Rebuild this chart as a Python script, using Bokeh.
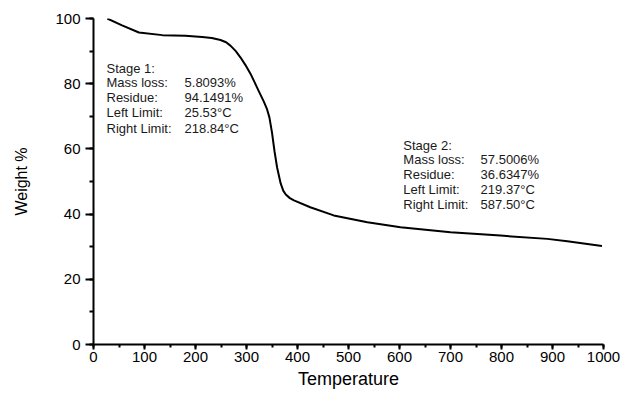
from bokeh.plotting import figure
from bokeh.models import SingleIntervalTicker, ColumnDataSource
from bokeh.core.properties import value
from bokeh.embed import file_html
from bokeh.resources import INLINE

temperature = [27, 56, 89, 135, 180, 213, 232, 249, 260, 269, 279, 288, 298, 308, 316, 324, 334,
               340, 345, 350, 355, 360, 367, 372, 377, 385, 393, 425, 471, 537, 602, 700, 798,
               890, 929, 997]
weight = [100.0, 97.9, 95.7, 94.9, 94.7, 94.3, 94.0, 93.4, 92.7, 91.6, 90.0, 88.1, 85.7, 83.0,
          80.4, 77.7, 74.5, 72.3, 69.6, 65.0, 59.2, 54.3, 49.4, 47.2, 46.0, 44.9, 44.2, 42.1,
          39.6, 37.5, 36.0, 34.4, 33.4, 32.4, 31.7, 30.2]

stage1_labels = ["Stage 1:", "Mass loss:", "Residue:", "Left Limit:", "Right Limit:"]
stage1_values = ["", "5.8093%", "94.1491%", "25.53°C", "218.84°C"]
stage1_y = [84.8, 80.5, 75.9, 71.3, 66.4]
stage2_labels = ["Stage 2:", "Mass loss:", "Residue:", "Left Limit:", "Right Limit:"]
stage2_values = ["", "57.5006%", "36.6347%", "219.37°C", "587.50°C"]
stage2_y = [61.0, 56.6, 52.3, 47.6, 42.9]

FONT = "Liberation Sans"

p = figure(width=624, height=394, x_range=(0, 1000), y_range=(0, 100),
           output_backend="svg", toolbar_location=None,
           min_border_left=93, min_border_right=21, min_border_top=18, min_border_bottom=50)
p.outline_line_color = None
p.xgrid.visible = False
p.ygrid.visible = False
p.background_fill_color = "white"
p.border_fill_color = "white"

p.line(temperature, weight, line_color="black", line_width=2, line_join="round")

src1 = ColumnDataSource(dict(x=[25.5] * 5, y=stage1_y, t=stage1_labels))
src1v = ColumnDataSource(dict(x=[178.5] * 5, y=stage1_y, t=stage1_values))
src2 = ColumnDataSource(dict(x=[607.5] * 5, y=stage2_y, t=stage2_labels))
src2v = ColumnDataSource(dict(x=[759] * 5, y=stage2_y, t=stage2_values))
for s in (src1, src1v, src2, src2v):
    p.text(x="x", y="y", text="t", source=s, text_font=value(FONT), text_font_size="13px",
           text_baseline="middle", text_align="left", text_color="#1a1a1a")

for ax in (p.xaxis[0], p.yaxis[0]):
    ax.axis_line_width = 2
    ax.axis_line_color = "black"
    ax.major_tick_line_width = 2
    ax.minor_tick_line_width = 2
    ax.major_tick_line_color = "black"
    ax.minor_tick_line_color = "black"
    ax.major_tick_in = 0
    ax.minor_tick_in = 0
    ax.major_label_text_font = FONT
    ax.major_label_text_font_size = "15px"
    ax.major_label_text_color = "black"
    ax.axis_label_text_font = FONT
    ax.axis_label_text_font_style = "normal"
    ax.axis_label_text_color = "black"

p.xaxis[0].ticker = SingleIntervalTicker(interval=100, num_minor_ticks=2)
p.yaxis[0].ticker = SingleIntervalTicker(interval=20, num_minor_ticks=2)
p.xaxis[0].major_tick_out = 5
p.xaxis[0].minor_tick_out = 3
p.yaxis[0].major_tick_out = 8
p.yaxis[0].minor_tick_out = 4
p.xaxis[0].major_label_standoff = 2
p.yaxis[0].major_label_standoff = 5
p.xaxis[0].axis_label = "Temperature"
p.xaxis[0].axis_label_text_font_size = "18px"
p.xaxis[0].axis_label_standoff = 4
p.yaxis[0].axis_label = "Weight %"
p.yaxis[0].axis_label_text_font_size = "16px"
p.yaxis[0].axis_label_standoff = 22

open("out.html", "w").write(file_html(p, INLINE))
